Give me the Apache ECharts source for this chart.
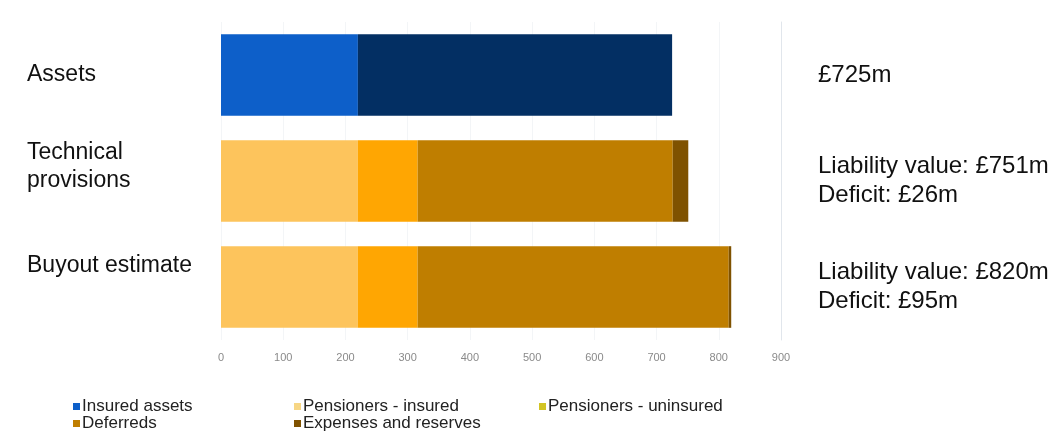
<!DOCTYPE html>
<html>
<head>
<meta charset="utf-8">
<script src="https://cdn.jsdelivr.net/npm/echarts@6/dist/echarts.min.js"></script>
<style>
    html, body { margin: 0; padding: 0; background: #fff; }
    #chart { width: 1064px; height: 433px; }
</style>
</head>
<body>
<div id="chart"></div>
<script>
    // categories, top to bottom
    var categories = ['Assets', 'Technical\nprovisions', 'Buyout estimate'];
    var rightNotes = ['£725m', 'Liability value: £751m\nDeficit: £26m', 'Liability value: £820m\nDeficit: £95m'];
    var xTicks = [0, 100, 200, 300, 400, 500, 600, 700, 800, 900];

    // £m, one value per category
    var insuredAssets = [220, 0, 0];
    var otherAssets = [505, 0, 0];
    var pensionersInsured = [0, 220, 220];
    var pensionersUninsured = [0, 96, 96];
    var deferreds = [0, 410, 500];
    var expenses = [0, 25, 4];

    var font = 'Liberation Sans, Arial, sans-serif';

    // the left labels in the original sit above the bar centres:
    // an empty trailing line of this height lifts them
    var leftLift = [0, 28, 42];

    function bar(name, data, color) {
        return {
            name: name,
            type: 'bar',
            stack: 'total',
            barCategoryGap: '23%',
            itemStyle: { color: color },
            data: data
        };
    }

    function legendAt(left, names) {
        return {
            orient: 'vertical',
            left: left,
            top: 398,
            height: 80,
            icon: 'rect',
            itemWidth: 7,
            itemHeight: 7,
            itemGap: 0,
            padding: 0,
            textStyle: { fontFamily: font, fontSize: 17, lineHeight: 15, color: '#222', padding: [0, 0, 0, -3] },
            data: names
        };
    }

    var chart = echarts.init(document.getElementById('chart'));
    chart.setOption({
        animation: false,
        textStyle: { fontFamily: font },
        grid: { left: 221, right: 283, top: 22, bottom: 93, outerBoundsMode: 'none' },
        legend: [
            legendAt(73, ['Insured assets', 'Deferreds']),
            legendAt(294, [{ name: 'Pensioners - insured', itemStyle: { color: '#f7d684' } }, 'Expenses and reserves']),
            legendAt(539, [{ name: 'Pensioners - uninsured', itemStyle: { color: '#d2c424' } }])
        ],
        xAxis: {
            type: 'value',
            min: xTicks[0],
            max: xTicks[xTicks.length - 1],
            interval: xTicks[1] - xTicks[0],
            axisLine: { show: false },
            axisTick: { show: false },
            axisLabel: { color: '#8a8a8a', fontSize: 11, margin: 12 },
            splitLine: { lineStyle: { color: '#f3f5f7' } }
        },
        yAxis: [
            {
                type: 'category',
                inverse: true,
                data: categories.map(function (c, i) {
                    return {
                        value: c,
                        textStyle: leftLift[i] ? { align: 'left', lineHeight: leftLift[i] } : { align: 'left' }
                    };
                }),
                axisLine: { show: false },
                axisTick: { show: false },
                axisLabel: {
                    align: 'left', margin: 194, fontSize: 23, lineHeight: 30, color: '#111',
                    formatter: function (v, i) { return leftLift[i] ? v + '\n' : v; }
                }
            },
            {
                type: 'category',
                inverse: true,
                position: 'right',
                data: rightNotes,
                axisLine: { show: true, lineStyle: { color: '#e1e6ec' } },
                axisTick: { show: false },
                axisLabel: { align: 'left', margin: 37, fontSize: 24, lineHeight: 29, color: '#111' }
            }
        ],
        series: [
            bar('Insured assets', insuredAssets, '#0d5fc9'),
            bar('Uninsured assets', otherAssets, '#032f63'),
            bar('Pensioners - insured', pensionersInsured, '#fdc45c'),
            bar('Pensioners - uninsured', pensionersUninsured, '#ffa602'),
            bar('Deferreds', deferreds, '#bf7e00'),
            bar('Expenses and reserves', expenses, '#7f5200')
        ]
    });
</script>
</body>
</html>
